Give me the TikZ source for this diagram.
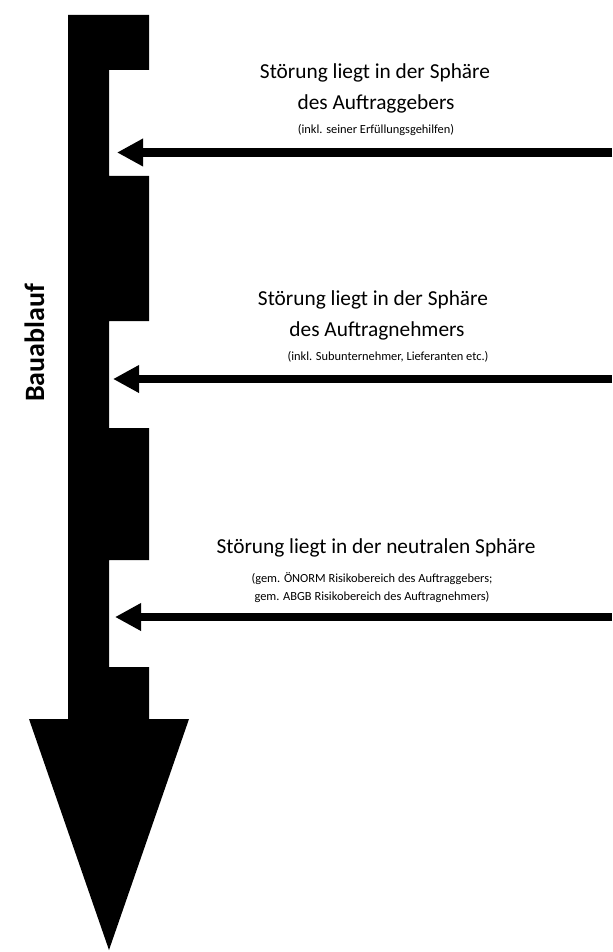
\documentclass[tikz,border=0pt]{standalone}
\usepackage{fontspec}
\setmainfont{Carlito}
\usetikzlibrary{arrows.meta}

\tikzset{every picture/.style={line width=0.75pt}}
\tikzset{
  sphtext/.style={inner sep=0.75pt, align=center, font=\fontsize{16}{18}\selectfont},
  sphnote/.style={inner sep=0.75pt, align=center, font=\fontsize{9.3}{13.5}\selectfont},
  hit/.style={line width=6.5pt, -{Triangle[length=19.5pt,width=19.5pt]}}
}

\begin{document}
\begin{tikzpicture}[x=0.75pt,y=0.75pt,yscale=-1,xscale=1]
\useasboundingbox (0,0) rectangle (612,952); %set diagram to 612 x 952

%Shape: Bar with notches and head
\fill [black] (68,15) -- (149,15) -- (149,70) -- (109,70) -- (109,176) -- (149,176) -- (149,321) -- (109,321) -- (109,428) -- (149,428) -- (149,560) -- (109,560) -- (109,667) -- (149,667) -- (149,719) -- (189,719) -- (109,950) -- (29,719) -- (68,719) -- cycle ;

% Text Node
\draw (44,343) node [rotate=90, anchor=base, inner sep=0pt, font=\fontsize{21}{24}\bfseries] (bau) {Bauablauf};

% Text Node
\draw (375,73) node [sphtext] (agA) {Störung liegt in der Sphäre};
\draw (376,104) node [sphtext] (agB) {des Auftraggebers};
\draw (376,130) node [sphnote] (agC) {(inkl. seiner Erfüllungsgehilfen)};

% Text Node
\draw (373,300) node [sphtext] (anA) {Störung liegt in der Sphäre};
\draw (377,331) node [sphtext] (anB) {des Auftragnehmers};
\draw (388,357) node [sphnote] (anC) {(inkl. Subunternehmer, Lieferanten etc.)};

% Text Node
\draw (376,548) node [sphtext] (neA) {Störung liegt in der neutralen Sphäre};
\draw (372,588) node [sphnote] (neB) {(gem. ÖNORM Risikobereich des Auftraggebers;\\gem. ABGB Risikobereich des Auftragnehmers)};

%Shape: Arrows into the notches
\coordinate (in1) at (612,152.5);
\coordinate (hit1) at (117,152.5);
\coordinate (in2) at (612,379);
\coordinate (hit2) at (113,379);
\coordinate (in3) at (612,617);
\coordinate (hit3) at (115,617);
\draw [hit] (in1) -- (hit1) ;
\draw [hit] (in2) -- (hit2) ;
\draw [hit] (in3) -- (hit3) ;

\end{tikzpicture}
\end{document}
